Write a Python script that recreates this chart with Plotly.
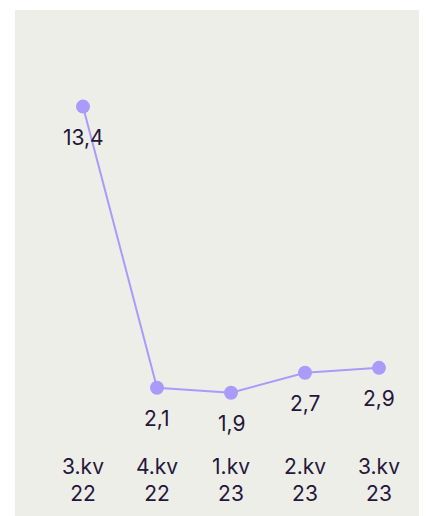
import plotly.graph_objects as go

categories = ["3.kv<br>22", "4.kv<br>22", "1.kv<br>23", "2.kv<br>23", "3.kv<br>23"]
values = [13.4, 2.1, 1.9, 2.7, 2.9]

LINE = "#a99afb"
TEXT = "#25163b"
PANEL = "#eeeee9"

W, H = 419, 508
L, R, T, B = 38, 11, 9, 76
pw, ph = W - L - R, H - T - B
bottom_px = H - B

fig = go.Figure(go.Scatter(
    x=categories, y=values,
    mode="lines+markers",
    line=dict(color=LINE, width=2),
    marker=dict(color=LINE, size=14),
    cliponaxis=False,
    hoverinfo="skip",
))

for c, v in zip(categories, values):
    fig.add_annotation(x=c, y=v, text=f"{v:.1f}".replace(".", ","),
                       showarrow=False, yshift=-31, xanchor="center", yanchor="middle",
                       font=dict(family="Inter", size=21, color=TEXT))

fig.add_shape(type="rect", xref="paper", yref="paper",
              x0=(7 - L) / pw, x1=(W + 5 - L) / pw,
              y0=(bottom_px - H - 5) / ph, y1=(bottom_px - 2) / ph,
              fillcolor=PANEL, line=dict(width=0), layer="below")

fig.update_layout(
    width=W, height=H,
    margin=dict(l=L, r=R, t=T, b=B),
    paper_bgcolor="white", plot_bgcolor="rgba(0,0,0,0)",
    showlegend=False,
    font=dict(family="Inter", size=21, color=TEXT),
    xaxis=dict(type="category", showgrid=False, zeroline=False, showline=False,
               ticks="", tickfont=dict(family="Inter", size=21, color=TEXT),
               ticklabelstandoff=12,
               range=[-0.5, 4.5], fixedrange=True, automargin=False),
    yaxis=dict(range=[0, 17], visible=False, showgrid=False, zeroline=False,
               fixedrange=True, automargin=False),
)

fig.write_html("out.html")
